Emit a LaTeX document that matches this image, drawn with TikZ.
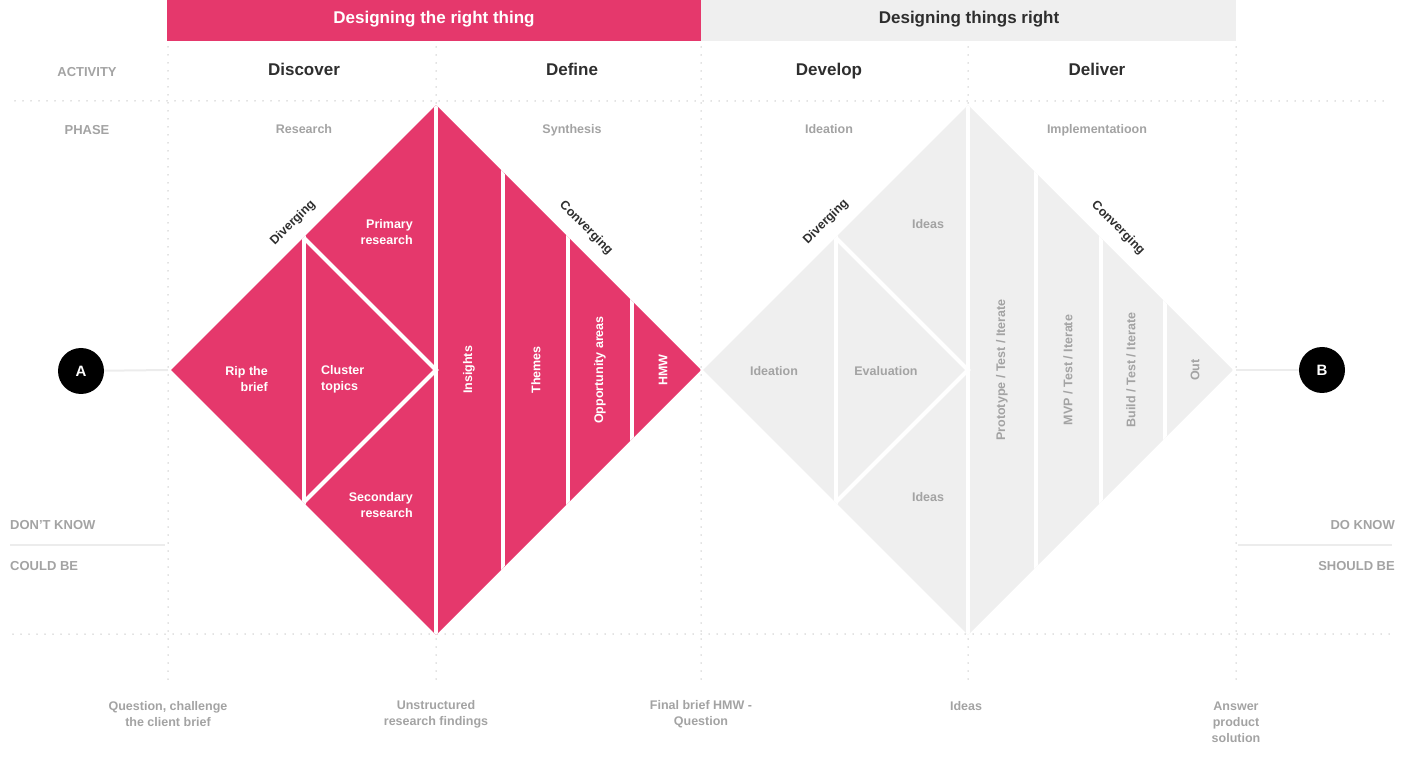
\documentclass[tikz,border=0pt]{standalone}
\usepackage{fontspec}
\setmainfont{Liberation Sans}
\definecolor{pinkfill}{HTML}{E5386C}
\definecolor{greyfill}{HTML}{EFEFEF}
\definecolor{labelgrey}{HTML}{A3A3A3}
\definecolor{darktext}{HTML}{2E2E2E}
\definecolor{dotgrey}{HTML}{C4C4C4}
\definecolor{rulegrey}{HTML}{ECECEC}
\begin{document}
\begin{tikzpicture}[x=1pt,y=1pt,
  every node/.style={inner sep=0pt},
  bannertext/.style={font=\bfseries\fontsize{17}{20}\selectfont},
  activitytext/.style={font=\bfseries\fontsize{17}{20}\selectfont, text=darktext, anchor=base},
  sidetext/.style={font=\bfseries\fontsize{13}{16}\selectfont, text=labelgrey},
  phasetext/.style={font=\bfseries\fontsize{12.5}{16}\selectfont, text=labelgrey, anchor=base},
  pinktext/.style={font=\bfseries\fontsize{12.5}{16}\selectfont, text=white},
  greytext/.style={font=\bfseries\fontsize{12.5}{16}\selectfont, text=labelgrey},
  flowtext/.style={font=\bfseries\fontsize{12.5}{16}\selectfont, text=darktext},
  bottomtext/.style={font=\bfseries\fontsize{12.5}{16}\selectfont, text=labelgrey, align=center},
  dotline/.style={dotgrey, line width=1.5pt, line cap=round, dash pattern=on 0pt off 8pt},
  gapline/.style={white, line width=4pt},
  rule/.style={rulegrey, line width=1.2pt},
  endpoint/.style={circle, fill=black, minimum size=46pt, text=white, font=\bfseries\fontsize{15}{18}\selectfont}
]
\useasboundingbox (0,0) rectangle (1408,780);

% header banners
\fill[pinkfill] (167,780) rectangle (701,739);
\fill[greyfill] (701,780) rectangle (1236,739);
\node[bannertext, text=white] (bannerL) at (434,761) {Designing the right thing};
\node[bannertext, text=darktext] (bannerR) at (969,761) {Designing things right};

% dotted grid
\draw[dotline] (15,679) -- (1390,679);
\draw[dotline] (13,146) -- (1390,146);
\foreach \gx in {168,436,701,968,1236}
  \draw[dotline] (\gx,733) -- (\gx,94);

% row labels
\node[sidetext] (activity) at (87,708) {ACTIVITY};
\node[sidetext] (phase) at (87,650) {PHASE};
\node[sidetext, anchor=west] (dontknow) at (10,255) {DON’T KNOW};
\node[sidetext, anchor=west] (couldbe) at (10,214) {COULD BE};
\node[sidetext, anchor=east] (doknow) at (1395,255) {DO KNOW};
\node[sidetext, anchor=east] (shouldbe) at (1395,214) {SHOULD BE};
\draw[rule] (10,235) -- (165,235);
\draw[rule] (1238,235) -- (1392,235);

% activities and phases
\node[activitytext] (discover) at (304,704) {Discover};
\node[activitytext] (define) at (572,704) {Define};
\node[activitytext] (develop) at (829,704) {Develop};
\node[activitytext] (deliver) at (1097,704) {Deliver};
\node[phasetext] (research) at (304,646) {Research};
\node[phasetext] (synthesis) at (572,646) {Synthesis};
\node[phasetext] (ideationphase) at (829,646) {Ideation};
\node[phasetext] (implementation) at (1097,646) {Implementatioon};

% first diamond
\begin{scope}
  \clip (171,410) -- (436,675) -- (701,410) -- (436,145) -- cycle;
  \fill[pinkfill] (171,145) rectangle (701,675);
  \foreach \vx in {303.5,436,503,568,632}
    \draw[gapline] (\vx,140) -- (\vx,680);
  \draw[gapline] (303.5,542.5) -- (436,410) -- (303.5,277.5);
\end{scope}

% second diamond
\begin{scope}
  \clip (703,410) -- (968,675) -- (1233,410) -- (968,145) -- cycle;
  \fill[greyfill] (703,145) rectangle (1233,675);
  \foreach \vx in {835.5,968,1036,1101,1165}
    \draw[gapline] (\vx,140) -- (\vx,680);
  \draw[gapline] (835.5,542.5) -- (968,410) -- (835.5,277.5);
\end{scope}

% start and end points
\node[endpoint] (A) at (81,409) {A};
\node[endpoint] (B) at (1322,410) {B};
\coordinate (Aend) at (168,410);
\coordinate (Bstart) at (1236,410);
\draw[rulegrey, line width=2pt] (A) -- (Aend);
\draw[rulegrey, line width=2pt] (Bstart) -- (B);

% labels in the first diamond
\node[pinktext, anchor=east, align=right] (rip) at (268,401) {Rip the\\brief};
\node[pinktext, anchor=west, align=left] (cluster) at (321,401) {Cluster\\topics};
\node[pinktext, anchor=east, align=right] (primary) at (413,548) {Primary\\research};
\node[pinktext, anchor=east, align=right] (secondary) at (413,275) {Secondary\\research};
\node[pinktext, rotate=90] (insights) at (469,410) {Insights};
\node[pinktext, rotate=90] (themes) at (536,410) {Themes};
\node[pinktext, rotate=90] (opportunity) at (600,410) {Opportunity areas};
\node[pinktext, rotate=90] (hmw) at (663,410) {HMW};
\node[flowtext, rotate=45] (div1) at (293,557) {Diverging};
\node[flowtext, rotate=-45] (conv1) at (586,552) {Converging};

% labels in the second diamond
\node[greytext] (ideation) at (774,409) {Ideation};
\node[greytext] (evaluation) at (886,409) {Evaluation};
\node[greytext] (ideastop) at (928,556) {Ideas};
\node[greytext] (ideasbottom) at (928,283) {Ideas};
\node[greytext, rotate=90] (prototype) at (1002,410) {Prototype / Test / Iterate};
\node[greytext, rotate=90] (mvp) at (1068,410) {MVP / Test / Iterate};
\node[greytext, rotate=90] (build) at (1131,410) {Build / Test / Iterate};
\node[greytext, rotate=90] (out) at (1195,410) {Out};
\node[flowtext, rotate=45] (div2) at (826,558) {Diverging};
\node[flowtext, rotate=-45] (conv2) at (1118,552) {Converging};

% outcomes along the bottom
\node[bottomtext] (question) at (168,66) {Question, challenge\\the client brief};
\node[bottomtext] (findings) at (436,66) {Unstructured\\research findings};
\node[bottomtext] (finalbrief) at (701,66) {Final brief HMW -\\Question};
\node[bottomtext] (ideasout) at (966,74) {Ideas};
\node[bottomtext] (answer) at (1236,58) {Answer\\product\\solution};
\end{tikzpicture}
\end{document}
